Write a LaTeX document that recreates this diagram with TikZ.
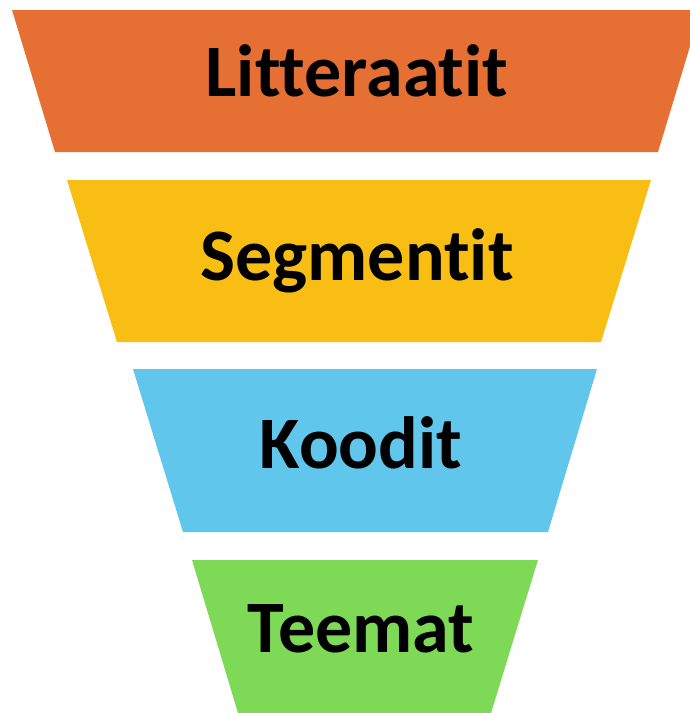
\documentclass[tikz,border=0pt]{standalone}
\usepackage{fontspec}
\setmainfont{Carlito}[Ligatures={NoCommon}]
\definecolor{litcol}{HTML}{E66F33}
\definecolor{segcol}{HTML}{F9BE13}
\definecolor{koodcol}{HTML}{60C6EC}
\definecolor{teemcol}{HTML}{7ED957}

\begin{document}
\begin{tikzpicture}[x=1pt,y=-1pt,
    label/.style={anchor=base,inner sep=0pt,font=\fontsize{74}{80}\selectfont\bfseries}]
            \useasboundingbox (0,0) rectangle (690,713);
            \clip (0,0) rectangle (690,713);

            \fill[litcol] (12,10) -- (701,10) -- (658,152) -- (55,152) -- cycle;
            \fill[segcol] (67,180) -- (651,180) -- (601,342) -- (117,342) -- cycle;
            \fill[koodcol] (133,369) -- (597,369) -- (548,532) -- (183,532) -- cycle;
            \fill[teemcol] (192,560) -- (538,560) -- (491,713) -- (238,713) -- cycle;

            \node[label] (lit) at (357,96) {Litteraatit};
            \node[label] (seg) at (357,280) {Segmentit};
            \node[label] (kood) at (361,468) {Koodit};
            \node[label] (teem) at (361,652) {Teemat};
        \end{tikzpicture}
\end{document}
